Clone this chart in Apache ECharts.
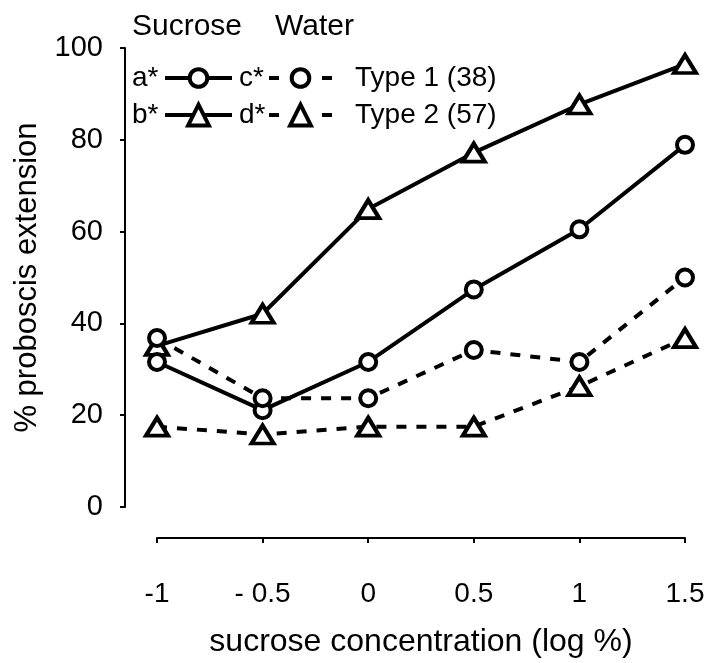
<!DOCTYPE html>
<html>
<head>
<meta charset="utf-8">
<script src="https://cdn.jsdelivr.net/npm/echarts@6/dist/echarts.min.js"></script>
<style>
html,body{margin:0;padding:0;background:#fff;}
#chart{width:712px;height:663px;}
</style>
</head>
<body>
<div id="chart"></div>
<script>
// ---- data ----
var xValues = [-1, -0.5, 0, 0.5, 1, 1.5];
var xTickLabels = ['-1', '- 0.5', '0', '0.5', '1', '1.5'];
var sucroseType1 = [31.6, 21.1, 31.6, 47.4, 60.5, 78.9];   // a*
var sucroseType2 = [35.1, 42.1, 64.9, 77.2, 87.7, 96.5];   // b*
var waterType1   = [36.8, 23.7, 23.7, 34.2, 31.6, 50.0];   // c*
var waterType2   = [17.5, 15.8, 17.5, 17.5, 26.3, 36.8];   // d*
var yTicks = [0, 20, 40, 60, 80, 100];
var legendNames = { a: 'c*', c: 'Type 1 (38)', b: 'd*', d: 'Type 2 (57)' };

function pairs(ys) { return xValues.map(function (x, i) { return [x, ys[i]]; }); }

var FONT = 'Liberation Sans, Arial, Helvetica, sans-serif';
var itemStyle = { color: '#fff', borderColor: '#000', borderWidth: 4 };
var dash = [10, 10];

function mkSeries(name, ys, symbol, size, dashed) {
  return {
    name: name, type: 'line', data: pairs(ys),
    symbol: symbol, symbolSize: size, showAllSymbol: true,
    itemStyle: itemStyle,
    lineStyle: { color: '#000', width: 4, type: dashed ? dash : 'solid' },
    emphasis: { disabled: true }, animation: false
  };
}

function mkLegend(name, left, top, width, height, lineType, textPad) {
  return {
    show: true, selectedMode: false, left: left, top: top, padding: 0,
    orient: 'horizontal', itemWidth: width, itemHeight: height, itemGap: 0,
    data: [lineType ? { name: name, lineStyle: { type: lineType } } : { name: name }],
    formatter: function (n) { return legendNames[n]; },
    itemStyle: { color: '#fff', borderColor: '#000', borderWidth: 4 },
    lineStyle: { color: '#000', width: 4 },
    textStyle: { fontSize: 28, color: '#000', fontFamily: FONT, padding: [0, 0, 0, textPad || 0] }
  };
}

var chart = echarts.init(document.getElementById('chart'), null, { renderer: 'canvas' });
chart.setOption({
  backgroundColor: '#fff',
  animation: false,
  textStyle: { fontFamily: FONT, color: '#000' },
  grid: { left: 157, right: 27, top: 48, bottom: 152, containLabel: false },
  xAxis: {
    type: 'value', min: -1, max: 1.5, interval: 0.5, offset: 31,
    splitLine: { show: false },
    axisLine: { show: true, onZero: false, lineStyle: { color: '#000', width: 2 } },
    axisTick: { show: true, length: 5, lineStyle: { color: '#000', width: 2 } },
    axisLabel: {
      fontSize: 28, color: '#000', fontFamily: FONT, margin: 42,
      formatter: function (v) { return xTickLabels[Math.round((v - xValues[0]) / 0.5)]; }
    },
    name: 'sucrose concentration (log %)', nameLocation: 'middle', nameGap: 88,
    nameTextStyle: { fontSize: 32, color: '#000', fontFamily: FONT }
  },
  yAxis: {
    type: 'value', min: yTicks[0], max: yTicks[yTicks.length - 1], interval: 20, offset: 32,
    splitLine: { show: false },
    axisLine: { show: true, onZero: false, lineStyle: { color: '#000', width: 2 } },
    axisTick: { show: true, length: 5, lineStyle: { color: '#000', width: 2 } },
    axisLabel: { fontSize: 29, color: '#000', fontFamily: FONT, margin: 22 },
    name: '% proboscis extension', nameLocation: 'middle', nameGap: 82, nameRotate: 90,
    nameTextStyle: { fontSize: 31, color: '#000', fontFamily: FONT }
  },
  legend: [
    mkLegend('a', 163, 64, 67, 22, null, 2),
    mkLegend('c', 267, 64, 63, 22, [10, 43], 18),
    mkLegend('b', 163, 101, 67, 26, null, 2),
    mkLegend('d', 267, 101, 63, 26, [10, 43], 18)
  ],
  graphic: [
    { type: 'text', left: 132, top: 12, style: { text: 'Sucrose', font: '30px ' + FONT, fill: '#000' } },
    { type: 'text', left: 275, top: 12, style: { text: 'Water', font: '30px ' + FONT, fill: '#000' } },
    { type: 'text', left: 132, top: 64, style: { text: 'a*', font: '28px ' + FONT, fill: '#000' } },
    { type: 'text', left: 132, top: 101, style: { text: 'b*', font: '28px ' + FONT, fill: '#000' } }
  ],
  series: [
    mkSeries('b', sucroseType2, 'triangle', [22, 18], false),
    mkSeries('d', waterType2, 'triangle', [22, 18], true),
    mkSeries('a', sucroseType1, 'circle', 16, false),
    mkSeries('c', waterType1, 'circle', 16, true)
  ]
});
</script>
</body>
</html>
